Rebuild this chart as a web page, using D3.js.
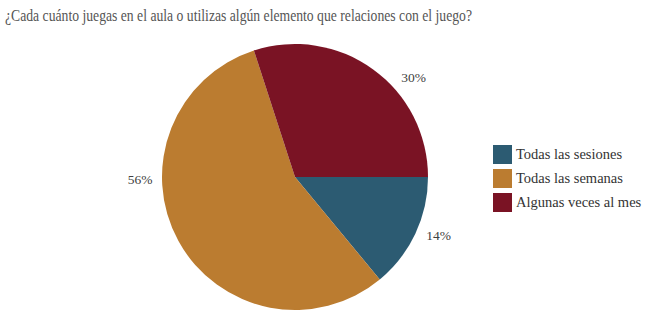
<!DOCTYPE html>
<html>
<head>
<meta charset="utf-8">
<script src="https://cdn.jsdelivr.net/npm/d3@7"></script>
<style>
  body { margin: 0; background: #fff; }
  svg { display: block; }
  text { font-family: "Liberation Serif", "DejaVu Serif", serif; }
</style>
</head>
<body>
<svg id="chart"></svg>
<script>
// data
const categories = ["Todas las sesiones", "Todas las semanas", "Algunas veces al mes"];
const values = [14, 56, 30];
const colors = ["#2c5b72", "#bb7c30", "#7a1324"];
const title = "¿Cada cuánto juegas en el aula o utilizas algún elemento que relaciones con el juego?";

let width = 650;
let height = 318;

let svg = d3.select("#chart")
  .attr("width", width)
  .attr("height", height);

// title, squeezed to the width it has in the picture
let t = svg.append("text")
  .attr("x", 5)
  .attr("y", 21)
  .attr("fill", "#555")
  .attr("font-size", 16)
  .text(title);
let tw = t.node().getComputedTextLength();
if (tw > 467) {
  t.attr("textLength", 467).attr("lengthAdjust", "spacingAndGlyphs");
}

let cx = 295, cy = 177, radius = 133;

let pie = d3.pie()
  .sort(null)
  .value(d => d)
  .startAngle(Math.PI / 2)
  .endAngle(Math.PI / 2 + 2 * Math.PI);

let arcs = pie(values);

let arc = d3.arc()
  .innerRadius(0)
  .outerRadius(radius);

let g = svg.append("g")
  .attr("transform", `translate(${cx},${cy})`);

g.selectAll(".slice")
  .data(arcs)
  .enter()
  .append("path")
  .attr("class", "slice")
  .attr("d", arc)
  .attr("fill", (d, i) => colors[i]);

// labels sit outside the rim; the angle is nudged like the original layout
let nudge = [-3, 28, 14];
g.selectAll(".label")
  .data(arcs)
  .enter()
  .append("text")
  .attr("class", "label")
  .attr("transform", (d, i) => {
    let a = (d.startAngle + d.endAngle) / 2 + nudge[i] * Math.PI / 180;
    let p = d3.pointRadial(a, radius + 22);
    return `translate(${p[0]},${p[1]})`;
  })
  .attr("text-anchor", "middle")
  .attr("dy", "0.35em")
  .attr("fill", "#404040")
  .attr("font-size", 13.5)
  .text(d => d.data + "%");

// legend
let legend = svg.append("g")
  .attr("transform", "translate(493,145)");

let rows = legend.selectAll(".row")
  .data(categories)
  .enter()
  .append("g")
  .attr("class", "row")
  .attr("transform", (d, i) => `translate(0,${i * 24})`);

rows.append("rect")
  .attr("width", 19)
  .attr("height", 19)
  .attr("fill", (d, i) => colors[i]);

rows.append("text")
  .attr("x", 23)
  .attr("y", 14)
  .attr("fill", "#333")
  .attr("font-size", 14.5)
  .text(d => d);
</script>
</body>
</html>
